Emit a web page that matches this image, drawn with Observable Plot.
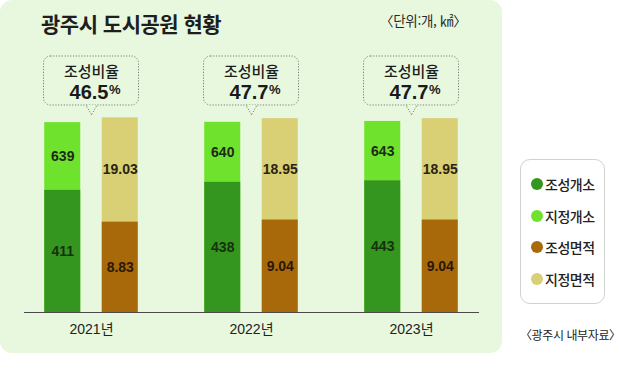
<!DOCTYPE html>
<html lang="ko">
<head>
<meta charset="utf-8">
<script src="https://cdn.jsdelivr.net/npm/d3@7"></script>
<script src="https://cdn.jsdelivr.net/npm/@observablehq/plot@0.6"></script>
<style>
  html, body { margin: 0; padding: 0; background: #fff; }
  #page { position: relative; width: 620px; height: 372px; overflow: hidden; font-family: "Noto Sans CJK KR", sans-serif; }
  #panel { position: absolute; left: 0; top: 0; width: 502px; height: 353px; background: #e8f8de; border-radius: 12px; }
  #title { position: absolute; left: 41px; top: 8px; font-size: 21px; font-weight: 700; color: #1e1e1e; line-height: 30px; letter-spacing: -0.5px; white-space: nowrap; }
  #unit { position: absolute; left: 380px; top: 10px; font-size: 13.5px; color: #2a2a2a; line-height: 20px; letter-spacing: -0.3px; white-space: nowrap; }
  #chart { position: absolute; left: 0; top: 0; }
  #legend { position: absolute; left: 520px; top: 159px; width: 85px; height: 145px; box-sizing: border-box; border: 1px solid #cfd3cc; border-radius: 10px; background: #fff; display: flex; flex-direction: column; justify-content: space-evenly; padding: 2px 0 2px 10px; }
  .item { display: flex; align-items: center; font-size: 14px; font-weight: 500; color: #222; letter-spacing: -0.5px; height: 18px; white-space: nowrap; }
  .sw { width: 12px; height: 12px; border-radius: 50%; margin-right: 2px; flex: none; }
  #source { position: absolute; left: 520px; top: 325px; font-size: 12px; color: #222; line-height: 20px; letter-spacing: -0.4px; white-space: nowrap; }
</style>
</head>
<body>
<div id="page">
  <div id="panel"></div>
  <div id="title"></div>
  <div id="unit"></div>
  <div id="chart"></div>
  <div id="legend"></div>
  <div id="source"></div>
</div>
<script>
// ---- data ----
const years = ["2021", "2022", "2023"];
const developedCount = [411, 438, 443];     // 조성개소
const designatedCount = [639, 640, 643];    // 지정개소
const developedArea = [8.83, 9.04, 9.04];   // 조성면적
const designatedArea = [19.03, 18.95, 18.95]; // 지정면적
const developRatio = [46.5, 47.7, 47.7];    // 조성비율 (%)
const legendLabels = ["조성개소", "지정개소", "조성면적", "지정면적"];
const legendColors = ["#35961f", "#6fe22d", "#a8690b", "#d9cf74"];
const titleText = "광주시 도시공원 현황";
const unitText = "〈단위:개, ㎢〉";
const sourceText = "〈광주시 내부자료〉";
const ratioLabel = "조성비율";
// hidden scale maxima for the two measures (counts and areas share the height)
const countScaleMax = 1050;
const areaScaleMax = 30.5;

const rows = years.map((year, i) => ({
  year,
  devC: developedCount[i], desC: designatedCount[i],
  devA: developedArea[i], desA: designatedArea[i],
  ratio: developRatio[i]
}));

document.getElementById("title").textContent = titleText;
document.getElementById("unit").textContent = unitText;
document.getElementById("source").textContent = sourceText;
const legend = document.getElementById("legend");
legendLabels.forEach((label, i) => {
  const it = document.createElement("div");
  it.className = "item";
  const sw = document.createElement("span");
  sw.className = "sw";
  sw.style.background = legendColors[i];
  it.appendChild(sw);
  it.appendChild(document.createTextNode(label));
  legend.appendChild(it);
});

const bg = "#e8f8de";
const off = 28.75;     // half distance between the two bars of a year
const barInset = 62;   // narrows each bar inside its year band
const labelFont = 14;

const chart = Plot.plot({
  width: 620,
  height: 372,
  marginTop: 0,
  marginBottom: 60,
  marginLeft: 10,
  marginRight: 129,
  x: { domain: years, padding: 0 },
  y: { domain: [0, 1], axis: null },
  style: { background: "transparent", fontFamily: "'Liberation Sans', 'Noto Sans CJK KR', sans-serif" },
  marks: [
    // count bars: designated (full) then developed (overlay)
    Plot.barY(rows, { x: "year", y: d => d.desC / countScaleMax, fill: legendColors[1], dx: -off, insetLeft: barInset, insetRight: barInset }),
    Plot.barY(rows, { x: "year", y: d => d.devC / countScaleMax, fill: legendColors[0], dx: -off, insetLeft: barInset, insetRight: barInset }),
    // area bars
    Plot.barY(rows, { x: "year", y: d => d.desA / areaScaleMax, fill: legendColors[3], dx: off, insetLeft: barInset, insetRight: barInset }),
    Plot.barY(rows, { x: "year", y: d => d.devA / areaScaleMax, fill: legendColors[2], dx: off, insetLeft: barInset, insetRight: barInset }),
    // value labels
    Plot.text(rows, { x: "year", y: d => (d.devC + d.desC) / 2 / countScaleMax, text: d => String(d.desC), dx: -off, fontSize: labelFont, fontWeight: 700, fill: "#1d2b14" }),
    Plot.text(rows, { x: "year", y: d => d.devC / 2 / countScaleMax, text: d => String(d.devC), dx: -off, fontSize: labelFont, fontWeight: 600, fill: "#17300e" }),
    Plot.text(rows, { x: "year", y: d => (d.devA + d.desA) / 2 / areaScaleMax, text: d => d.desA.toFixed(2), dx: off, fontSize: labelFont, fontWeight: 700, fill: "#2a2410" }),
    Plot.text(rows, { x: "year", y: d => d.devA / 2 / areaScaleMax, text: d => d.devA.toFixed(2), dx: off, fontSize: labelFont, fontWeight: 600, fill: "#2b1804" }),
    // baseline
    Plot.ruleY([0], { stroke: "#4a4a4a", strokeWidth: 1.2, insetLeft: 14, insetRight: 12 }),
    // year axis
    Plot.axisX({ tickSize: 0, tickPadding: 12, fontSize: 14, color: "#222", label: null, tickFormat: d => d + "년" }),
    // callout boxes
    Plot.cell(rows, { x: "year", fill: bg, stroke: "#7a7a7a", strokeWidth: 1, strokeDasharray: "1.2 1.6", rx: 7, insetTop: 56, insetBottom: 207, insetLeft: 32.5, insetRight: 32.5 }),
    Plot.dot(rows, { x: "year", frameAnchor: "top", dy: 108, symbol: "triangle", rotate: 180, r: 4, fill: bg, stroke: "#7a7a7a", strokeWidth: 1, strokeDasharray: "1.2 1.6" }),
    Plot.dot(rows, { x: "year", frameAnchor: "top", dy: 107, symbol: "triangle", rotate: 180, r: 3.5, fill: bg, stroke: "none" }),
    Plot.text(rows, { x: "year", frameAnchor: "top", lineAnchor: "middle", dy: 71.5, text: () => ratioLabel, fontSize: 15, fontWeight: 500, fill: "#1e1e1e", fontFamily: "'Noto Sans CJK KR', sans-serif" }),
    Plot.text(rows, { x: "year", frameAnchor: "top", lineAnchor: "middle", dy: 92, text: d => d.ratio.toFixed(1), fontSize: 20, fontWeight: 700, fill: "#1a1a1a", textAnchor: "end", dx: 17 }),
    Plot.text(rows, { x: "year", frameAnchor: "top", lineAnchor: "middle", dy: 89.5, text: () => "%", fontSize: 13, fontWeight: 700, fill: "#1a1a1a", textAnchor: "start", dx: 17.5 })
  ]
});
document.getElementById("chart").appendChild(chart);
</script>
</body>
</html>
